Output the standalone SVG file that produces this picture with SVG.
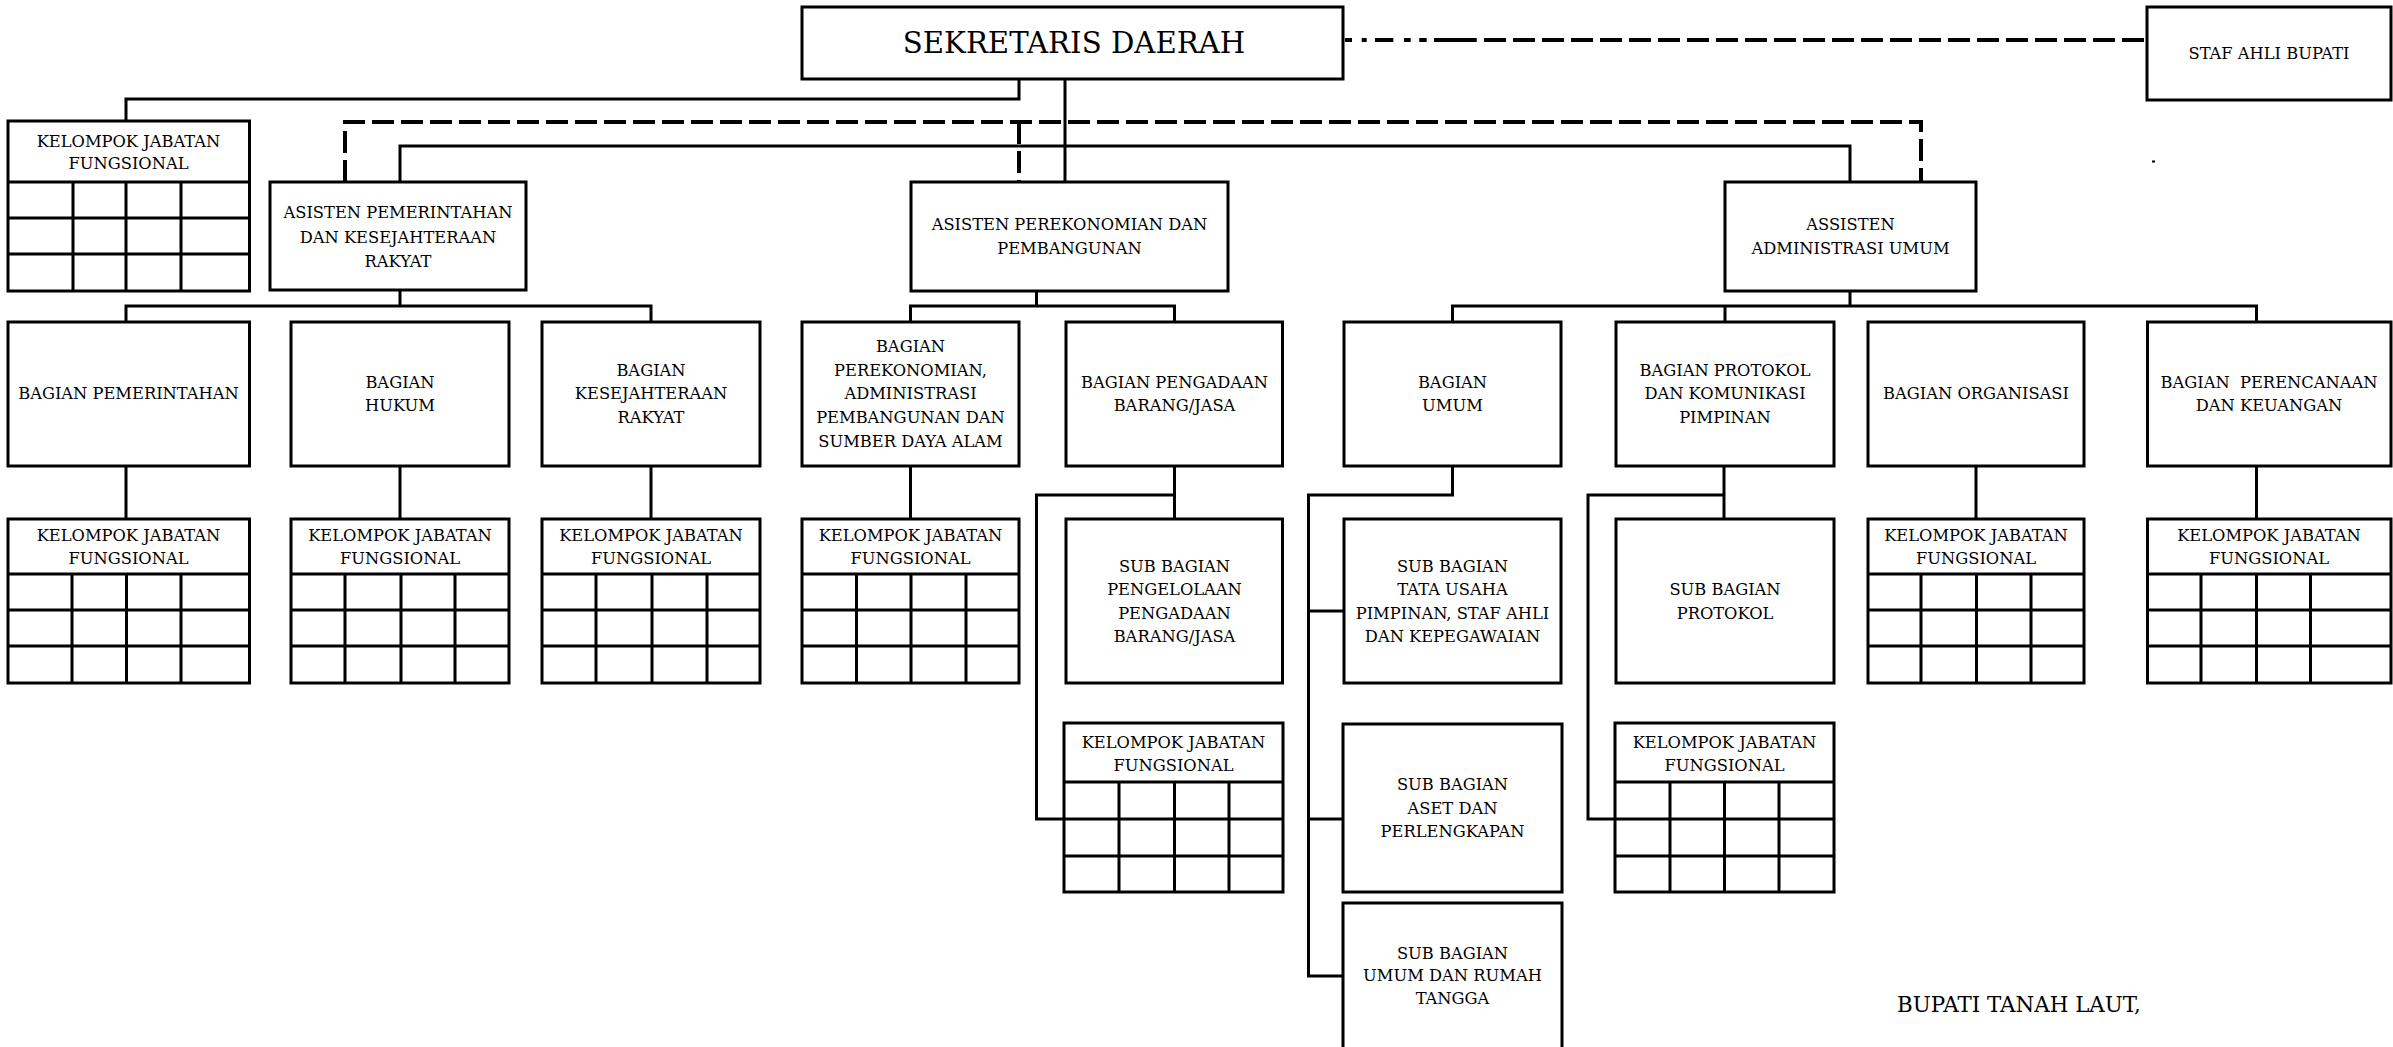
<svg xmlns="http://www.w3.org/2000/svg" width="2393" height="1047" viewBox="0 0 2393 1047">
<style>
.box{fill:#fff;stroke:#000;stroke-width:3}
.ln{fill:none;stroke:#000;stroke-width:3}
.gl{fill:none;stroke:#000;stroke-width:3}
.dash{fill:none;stroke:#000;stroke-width:4;stroke-dasharray:22 7}
.t{font-family:"DejaVu Serif","Liberation Serif",serif;font-size:16.3px;text-anchor:middle;fill:#000}
.big{font-size:29.2px}
.mid{font-size:21.4px;text-anchor:start}
</style>
<rect x="0" y="0" width="2393" height="1047" fill="#fff"/>

<g id="connectors">
  <path class="ln" d="M1019 79 V99 H126 V121"/>
  <path class="ln" d="M1065 79 V182"/>
  <path class="ln" d="M400 182 V146 H1850 V182"/>
  <path class="dash" d="M345 182 V122 H1921 V182"/>
  <path class="dash" d="M1019 122 V182"/>
  <path fill="none" stroke="#000" stroke-width="4" d="M1345 40 H1352 M1361.7 40 H1366.7 M1375 40 H1393.3 M1404 40 H1410.7 M1419.3 40 H1426.7 M1434 40 H1476.7"/>
  <path class="dash" d="M1484 40 H2147"/>
  <path class="ln" d="M400 290 V306"/>
  <path class="ln" d="M126 322 V306 H651 V322"/>
  <path class="ln" d="M1036.5 291 V306"/>
  <path class="ln" d="M910.5 322 V306 H1174.5 V322"/>
  <path class="ln" d="M1850 291 V306"/>
  <path class="ln" d="M1452.5 322 V306 H2256.5 V322"/>
  <path class="ln" d="M1725 306 V322"/>
  <path class="ln" d="M126 466 V519 M400 466 V519 M651 466 V519 M910.5 466 V519"/>
  <path class="ln" d="M1174.5 466 V519"/>
  <path class="ln" d="M1174.5 495 H1036.5 V819 H1064"/>
  <path class="ln" d="M1452.5 466 V495 H1308.5 V976 H1343"/>
  <path class="ln" d="M1308.5 611 H1344 M1308.5 819 H1343"/>
  <path class="ln" d="M1724 466 V519"/>
  <path class="ln" d="M1724 495 H1588 V819 H1615"/>
  <path class="ln" d="M1976 466 V519"/>
  <path class="ln" d="M2256.5 466 V519"/>
</g>

<g id="sekda">
  <rect class="box" x="802" y="7" width="541" height="72"/>
  <text class="t big" x="1074" y="53">SEKRETARIS DAERAH</text>
</g>
<g id="staf-ahli">
  <rect class="box" x="2147" y="7" width="244" height="93"/>
  <text class="t" x="2269" y="59">STAF AHLI BUPATI</text>
</g>
<rect x="2152" y="160.5" width="3" height="2" fill="#000"/>

<g id="kjf-sekda">
  <rect class="box" x="8" y="121" width="241.5" height="170"/>
  <path class="gl" d="M8 182 H249.5 M8 218 H249.5 M8 254 H249.5 M73 182 V291 M126 182 V291 M181 182 V291"/>
  <text class="t" x="128.5" y="147">KELOMPOK JABATAN</text>
  <text class="t" x="128.5" y="169">FUNGSIONAL</text>
</g>

<g id="asisten-pemerintahan">
  <rect class="box" x="270" y="182" width="256" height="108"/>
  <text class="t" x="398" y="218">ASISTEN PEMERINTAHAN</text>
  <text class="t" x="398" y="242.5">DAN KESEJAHTERAAN</text>
  <text class="t" x="398" y="267">RAKYAT</text>
</g>
<g id="asisten-perekonomian">
  <rect class="box" x="911" y="182" width="317" height="109"/>
  <text class="t" x="1069.5" y="230">ASISTEN PEREKONOMIAN DAN</text>
  <text class="t" x="1069.5" y="254">PEMBANGUNAN</text>
</g>
<g id="asisten-administrasi">
  <rect class="box" x="1725" y="182" width="251" height="109"/>
  <text class="t" x="1850.5" y="230">ASSISTEN</text>
  <text class="t" x="1850.5" y="254">ADMINISTRASI UMUM</text>
</g>

<g id="bagian-pemerintahan">
  <rect class="box" x="8" y="322" width="241.5" height="144"/>
  <text class="t" x="128.5" y="398.5">BAGIAN PEMERINTAHAN</text>
</g>
<g id="bagian-hukum">
  <rect class="box" x="291" y="322" width="218" height="144"/>
  <text class="t" x="400" y="387.5">BAGIAN</text>
  <text class="t" x="400" y="411">HUKUM</text>
</g>
<g id="bagian-kesra">
  <rect class="box" x="542" y="322" width="218" height="144"/>
  <text class="t" x="651" y="375.5">BAGIAN</text>
  <text class="t" x="651" y="399">KESEJAHTERAAN</text>
  <text class="t" x="651" y="422.5">RAKYAT</text>
</g>
<g id="bagian-perekonomian">
  <rect class="box" x="802" y="322" width="217" height="144"/>
  <text class="t" x="910.5" y="351.5">BAGIAN</text>
  <text class="t" x="910.5" y="375.5">PEREKONOMIAN,</text>
  <text class="t" x="910.5" y="399">ADMINISTRASI</text>
  <text class="t" x="910.5" y="422.5">PEMBANGUNAN DAN</text>
  <text class="t" x="910.5" y="446.5">SUMBER DAYA ALAM</text>
</g>
<g id="bagian-pengadaan">
  <rect class="box" x="1066" y="322" width="216.5" height="144"/>
  <text class="t" x="1174.5" y="387.5">BAGIAN PENGADAAN</text>
  <text class="t" x="1174.5" y="411">BARANG/JASA</text>
</g>
<g id="bagian-umum">
  <rect class="box" x="1344" y="322" width="217" height="144"/>
  <text class="t" x="1452.5" y="387.5">BAGIAN</text>
  <text class="t" x="1452.5" y="411">UMUM</text>
</g>
<g id="bagian-protokol">
  <rect class="box" x="1616" y="322" width="218" height="144"/>
  <text class="t" x="1725" y="375.5">BAGIAN PROTOKOL</text>
  <text class="t" x="1725" y="399">DAN KOMUNIKASI</text>
  <text class="t" x="1725" y="422.5">PIMPINAN</text>
</g>
<g id="bagian-organisasi">
  <rect class="box" x="1868" y="322" width="216" height="144"/>
  <text class="t" x="1976" y="398.5">BAGIAN ORGANISASI</text>
</g>
<g id="bagian-perencanaan">
  <rect class="box" x="2147.5" y="322" width="243.5" height="144"/>
  <text class="t" x="2269" y="387.5" xml:space="preserve">BAGIAN  PERENCANAAN</text>
  <text class="t" x="2269" y="411">DAN KEUANGAN</text>
</g>

<g id="kjf-pemerintahan">
  <rect class="box" x="8" y="519" width="241.5" height="164"/>
  <path class="gl" d="M8 574 H249.5 M8 610 H249.5 M8 646 H249.5 M72 574 V683 M126.5 574 V683 M181 574 V683"/>
  <text class="t" x="128.5" y="540.5">KELOMPOK JABATAN</text>
  <text class="t" x="128.5" y="563.5">FUNGSIONAL</text>
</g>
<g id="kjf-hukum">
  <rect class="box" x="291" y="519" width="218" height="164"/>
  <path class="gl" d="M291 574 H509 M291 610 H509 M291 646 H509 M345 574 V683 M401 574 V683 M455 574 V683"/>
  <text class="t" x="400" y="540.5">KELOMPOK JABATAN</text>
  <text class="t" x="400" y="563.5">FUNGSIONAL</text>
</g>
<g id="kjf-kesra">
  <rect class="box" x="542" y="519" width="218" height="164"/>
  <path class="gl" d="M542 574 H760 M542 610 H760 M542 646 H760 M596 574 V683 M652 574 V683 M707 574 V683"/>
  <text class="t" x="651" y="540.5">KELOMPOK JABATAN</text>
  <text class="t" x="651" y="563.5">FUNGSIONAL</text>
</g>
<g id="kjf-perekonomian">
  <rect class="box" x="802" y="519" width="217" height="164"/>
  <path class="gl" d="M802 574 H1019 M802 610 H1019 M802 646 H1019 M856.5 574 V683 M911 574 V683 M966 574 V683"/>
  <text class="t" x="910.5" y="540.5">KELOMPOK JABATAN</text>
  <text class="t" x="910.5" y="563.5">FUNGSIONAL</text>
</g>
<g id="sub-pengelolaan">
  <rect class="box" x="1066" y="519" width="216.5" height="164"/>
  <text class="t" x="1174.5" y="571.5">SUB BAGIAN</text>
  <text class="t" x="1174.5" y="595">PENGELOLAAN</text>
  <text class="t" x="1174.5" y="618.5">PENGADAAN</text>
  <text class="t" x="1174.5" y="641.5">BARANG/JASA</text>
</g>
<g id="sub-tata-usaha">
  <rect class="box" x="1344" y="519" width="217" height="164"/>
  <text class="t" x="1452.5" y="571.5">SUB BAGIAN</text>
  <text class="t" x="1452.5" y="595">TATA USAHA</text>
  <text class="t" x="1452.5" y="618.5">PIMPINAN, STAF AHLI</text>
  <text class="t" x="1452.5" y="641.5">DAN KEPEGAWAIAN</text>
</g>
<g id="sub-protokol">
  <rect class="box" x="1616" y="519" width="218" height="164"/>
  <text class="t" x="1725" y="595">SUB BAGIAN</text>
  <text class="t" x="1725" y="618.5">PROTOKOL</text>
</g>
<g id="kjf-organisasi">
  <rect class="box" x="1868" y="519" width="216" height="164"/>
  <path class="gl" d="M1868 574 H2084 M1868 610 H2084 M1868 646 H2084 M1921 574 V683 M1976.5 574 V683 M2031 574 V683"/>
  <text class="t" x="1976" y="540.5">KELOMPOK JABATAN</text>
  <text class="t" x="1976" y="563.5">FUNGSIONAL</text>
</g>
<g id="kjf-perencanaan">
  <rect class="box" x="2147.5" y="519" width="243.5" height="164"/>
  <path class="gl" d="M2147.5 574 H2391 M2147.5 610 H2391 M2147.5 646 H2391 M2201 574 V683 M2256.5 574 V683 M2310.5 574 V683"/>
  <text class="t" x="2269" y="540.5">KELOMPOK JABATAN</text>
  <text class="t" x="2269" y="563.5">FUNGSIONAL</text>
</g>

<g id="kjf-pengadaan">
  <rect class="box" x="1064" y="723" width="219" height="169"/>
  <path class="gl" d="M1064 782 H1283 M1064 819 H1283 M1064 856 H1283 M1119 782 V892 M1174.5 782 V892 M1229 782 V892"/>
  <text class="t" x="1173.5" y="747.5">KELOMPOK JABATAN</text>
  <text class="t" x="1173.5" y="771">FUNGSIONAL</text>
</g>
<g id="sub-aset">
  <rect class="box" x="1343" y="724" width="219" height="168"/>
  <text class="t" x="1452.5" y="789.5">SUB BAGIAN</text>
  <text class="t" x="1452.5" y="813.5">ASET DAN</text>
  <text class="t" x="1452.5" y="836.5">PERLENGKAPAN</text>
</g>
<g id="kjf-protokol">
  <rect class="box" x="1615" y="723" width="219" height="169"/>
  <path class="gl" d="M1615 782 H1834 M1615 819 H1834 M1615 856 H1834 M1670 782 V892 M1724.5 782 V892 M1779 782 V892"/>
  <text class="t" x="1724.5" y="747.5">KELOMPOK JABATAN</text>
  <text class="t" x="1724.5" y="771">FUNGSIONAL</text>
</g>
<g id="sub-umum-rt">
  <rect class="box" x="1343" y="903" width="219" height="160"/>
  <text class="t" x="1452.5" y="958.5">SUB BAGIAN</text>
  <text class="t" x="1452.5" y="980.5">UMUM DAN RUMAH</text>
  <text class="t" x="1452.5" y="1003.5">TANGGA</text>
</g>

<g id="signature">
  <text class="t mid" x="1897" y="1012">BUPATI TANAH LAUT,</text>
</g>
</svg>
